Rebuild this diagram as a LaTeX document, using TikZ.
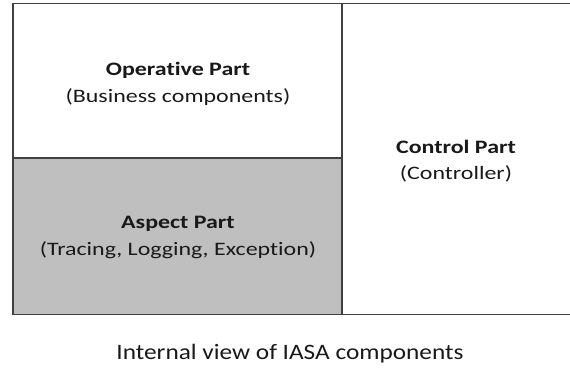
\documentclass[tikz,border=0pt]{standalone}
\usepackage{fontspec}
\setmainfont{Carlito}
\newfontfamily\boxfont[FakeStretch=1.26,Ligatures=NoCommon]{Carlito}
\newfontfamily\capfont[FakeStretch=1.15,Ligatures=NoCommon]{Carlito}
\begin{document}
\begin{tikzpicture}[x=1pt,y=-1pt,
  frame/.style={draw=black!75,line width=1.6pt},
  title/.style={font=\boxfont\fontsize{19}{22}\selectfont\bfseries,text=black!90},
  sub/.style={font=\boxfont\fontsize{19}{22}\selectfont,text=black!90},
  caption/.style={font=\capfont\fontsize{22}{26}\selectfont,text=black!90}]
\useasboundingbox (0,0) rectangle (570,369);
\begin{scope}
\clip (0,0) rectangle (570,369);
% aspect part background
\fill[black!25] (13,158) rectangle (342,314.5);
% outer frame and dividers
\draw[frame] (13,3.5) rectangle (574,314.5);
\draw[frame] (342,3.5) -- (342,314.5);
\draw[frame] (13,158) -- (342,158);
\end{scope}
\node[title] (op) at (178,70) {Operative Part};
\node[sub] (opsub) at (178,97) {(Business components)};
\node[title] (as) at (178,224) {Aspect Part};
\node[sub] (assub) at (178,250) {(Tracing, Logging, Exception)};
\node[title] (ct) at (456,147) {Control Part};
\node[sub] (ctsub) at (456,174) {(Controller)};
\node[caption] (cap) at (290,354) {Internal view of IASA components};
\end{tikzpicture}
\end{document}
